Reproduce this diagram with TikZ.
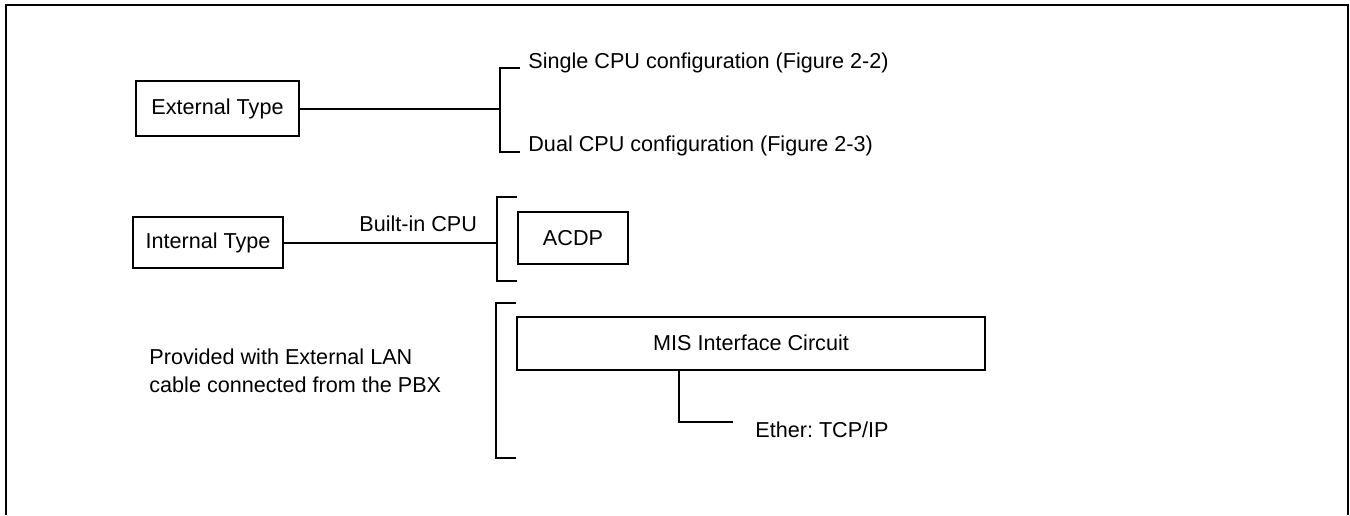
\documentclass[tikz,border=0pt]{standalone}
\usepackage{fontspec}
\setmainfont{Liberation Sans}
\usetikzlibrary{positioning,calc}

\begin{document}
\begin{tikzpicture}[x=0.5pt,y=-0.5pt,
   box/.style={draw,line width=1pt,inner sep=0pt,font=\fontsize{10.8}{13}\selectfont},
   txt/.style={inner sep=0pt,font=\fontsize{10.8}{14}\selectfont},
   ln/.style={line width=1pt}]
  \useasboundingbox (0,0) rectangle (1350,515);
  % outer frame, open at the bottom
  \draw[ln] (6,515) -- (6,5) -- (1348,5) -- (1348,515);

  % external type and its two configurations
  \node[box,minimum width=81.5pt,minimum height=27.5pt] (ext) at (217.5,108.5) {External Type};
  \node[txt,anchor=west] (sgl) at (528,63) {Single CPU configuration (Figure 2-2)};
  \node[txt,anchor=west] (dul) at (528,146) {Dual CPU configuration (Figure 2-3)};
  \coordinate (extT) at (520,68);
  \coordinate (extB) at (520,152);
  \coordinate (extsp) at (500,108);
  \draw[ln] (extT) -- ++(-20,0) |- (extB);
  \draw[ln] (ext.east) -- (ext.east -| extsp);

  % internal type with built-in CPU
  \node[box,minimum width=75pt,minimum height=25.5pt] (int) at (208,242.5) {Internal Type};
  \node[box,minimum width=55pt,minimum height=26pt] (acdp) at (573,238) {ACDP\hspace{7pt}};
  \coordinate (acT) at (517,197);
  \coordinate (acB) at (517,281);
  \coordinate (intsp) at (497,243);
  \draw[ln] (acT) -- ++(-20,0) |- (acB);
  \draw[ln] (int.east) -- (int.east -| intsp)
    node[txt,pos=0.63,above=5pt] (cpu) {Built-in CPU};

  % LAN cable from the PBX
  \node[txt,anchor=west,align=left] (lan) at (149,371) {Provided with External LAN\\cable connected from the PBX};
  \node[box,minimum width=234pt,minimum height=26.5pt] (mis) at (751,343) {MIS Interface Circuit};
  \node[txt,anchor=west] (eth) at (755,430) {Ether:\ TCP/IP};
  \coordinate (miT) at (516,303);
  \coordinate (miB) at (516,458);
  \draw[ln] (miT) -- ++(-20,0) |- (miB);
  \draw[ln] ([xshift=81.5pt]mis.south west) |- ($(eth.west)+(-22,-8)$);
\end{tikzpicture}
\end{document}
